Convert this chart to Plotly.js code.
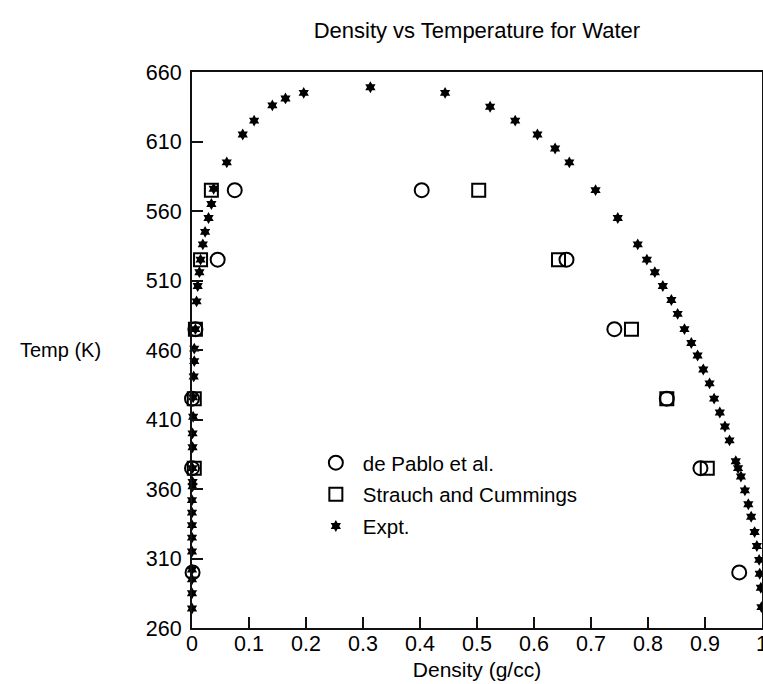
<!DOCTYPE html>
<html>
<head>
<meta charset="utf-8">
<script src="https://cdn.plot.ly/plotly-3.0.1.min.js"></script>
<style>
  html, body { margin: 0; padding: 0; background: #ffffff; }
  #chart { width: 763px; height: 684px; }
</style>
</head>
<body>
<div id="chart"></div>
<script>
// Simulation results: de Pablo et al.
const dePabloTemp    = [300, 300, 375, 375, 425, 425, 475, 475, 525, 525, 575, 575];
const dePabloDensity = [0.001, 0.960, 0.000, 0.892, 0.000, 0.833, 0.006, 0.741, 0.045, 0.657, 0.075, 0.403];

// Simulation results: Strauch and Cummings
const strauchTemp    = [375, 375, 425, 425, 475, 475, 525, 525, 575, 575];
const strauchDensity = [0.004, 0.904, 0.004, 0.833, 0.006, 0.771, 0.015, 0.643, 0.034, 0.503];

// Experimental coexistence curve: vapour branch
const vapourTemp    = [274, 285, 295, 302, 315, 325, 334, 343, 352, 362, 365, 375, 390, 400, 412,
                       426, 441, 452, 461, 475, 495, 506, 516, 525, 536, 545, 555, 565, 576, 595,
                       615, 625, 636, 641, 645, 649];
const vapourDensity = [0.000, 0.000, 0.000, 0.000, 0.000, 0.000, 0.000, 0.000, 0.000, 0.001, 0.001, 0.001, 0.001, 0.001, 0.002,
                       0.002, 0.003, 0.004, 0.004, 0.006, 0.008, 0.010, 0.013, 0.015, 0.019, 0.023, 0.029, 0.034, 0.038, 0.061,
                       0.089, 0.109, 0.141, 0.164, 0.196, 0.313];

// Experimental coexistence curve: liquid branch
const liquidTemp    = [275, 289, 299, 309, 319, 329, 340, 349, 359, 369, 375, 380, 395, 405, 415,
                       425, 436, 446, 456, 465, 475, 486, 496, 506, 516, 525, 536, 555, 575, 595,
                       605, 615, 625, 635, 645];
const liquidDensity = [0.999, 0.998, 0.996, 0.995, 0.991, 0.987, 0.981, 0.976, 0.970, 0.963, 0.958, 0.954, 0.943, 0.935, 0.926,
                       0.916, 0.908, 0.897, 0.887, 0.876, 0.864, 0.852, 0.841, 0.826, 0.812, 0.798, 0.782, 0.747, 0.708, 0.662,
                       0.637, 0.606, 0.567, 0.523, 0.444];

const xTickVals = [0, 0.1, 0.2, 0.3, 0.4, 0.5, 0.6, 0.7, 0.8, 0.9, 1];
const yTickVals = [260, 310, 360, 410, 460, 510, 560, 610, 660];

const FONT = "'Liberation Sans', Arial, Helvetica, sans-serif";

const traces = [
  {
    type: 'scatter', mode: 'markers', name: 'de Pablo et al.', legendgroup: 'a',
    x: dePabloDensity, y: dePabloTemp, cliponaxis: false,
    marker: { symbol: 'circle-open', size: 14, color: '#000', line: { width: 2, color: '#000' } }
  },
  {
    type: 'scatter', mode: 'markers', name: 'Strauch and Cummings', legendgroup: 'b',
    x: strauchDensity, y: strauchTemp, cliponaxis: false,
    marker: { symbol: 'square-open', size: 13, color: '#000', line: { width: 2, color: '#000' } }
  },
  {
    type: 'scatter', mode: 'markers', name: 'Expt.', legendgroup: 'c',
    x: vapourDensity.concat(liquidDensity), y: vapourTemp.concat(liquidTemp), cliponaxis: false,
    marker: { symbol: 'hexagram', size: 9, color: '#000', line: { width: 0 } }
  }
];

const axisCommon = {
  showline: true, linewidth: 2, linecolor: '#111', mirror: true,
  ticks: 'inside', ticklen: 11, tickwidth: 2, tickcolor: '#111',
  showgrid: false, zeroline: false, automargin: false,
  ticklabeloverflow: 'allow',
  tickfont: { family: FONT, size: 21.5, color: '#000' }
};

const layout = {
  width: 763, height: 684,
  paper_bgcolor: '#ffffff', plot_bgcolor: '#ffffff',
  margin: { l: 192, r: 1, t: 72, b: 56 },
  font: { family: FONT, size: 20, color: '#000' },
  title: {
    text: 'Density vs Temperature for Water',
    font: { family: FONT, size: 22, color: '#000' },
    x: 0.625, xanchor: 'center', y: 1 - 30 / 684, yanchor: 'middle'
  },
  xaxis: Object.assign({}, axisCommon, {
    range: [0, 1], tickvals: xTickVals, ticktext: xTickVals.map(String),
    ticklabelstandoff: -5,
    title: { text: 'Density (g/cc)', font: { family: FONT, size: 21, color: '#000' }, standoff: 8 }
  }),
  yaxis: Object.assign({}, axisCommon, {
    range: [260, 660], tickvals: yTickVals,
    ticklabelstandoff: 4
  }),
  showlegend: true,
  legend: {
    x: 0.205, xanchor: 'left', y: 0.333, yanchor: 'top',
    bgcolor: 'rgba(0,0,0,0)', borderwidth: 0,
    traceorder: 'grouped', tracegroupgap: 2, itemwidth: 44,
    font: { family: FONT, size: 20.5, color: '#000' }
  },
  annotations: [
    {
      text: 'Temp (K)', xref: 'paper', yref: 'paper', x: (18 - 192) / 570, y: (628.3 - 350) / 556.3,
      xanchor: 'left', yanchor: 'middle', showarrow: false,
      font: { family: FONT, size: 20, color: '#000' }
    }
  ]
};

Plotly.newPlot('chart', traces, layout, { displayModeBar: false, staticPlot: true });
</script>
</body>
</html>
